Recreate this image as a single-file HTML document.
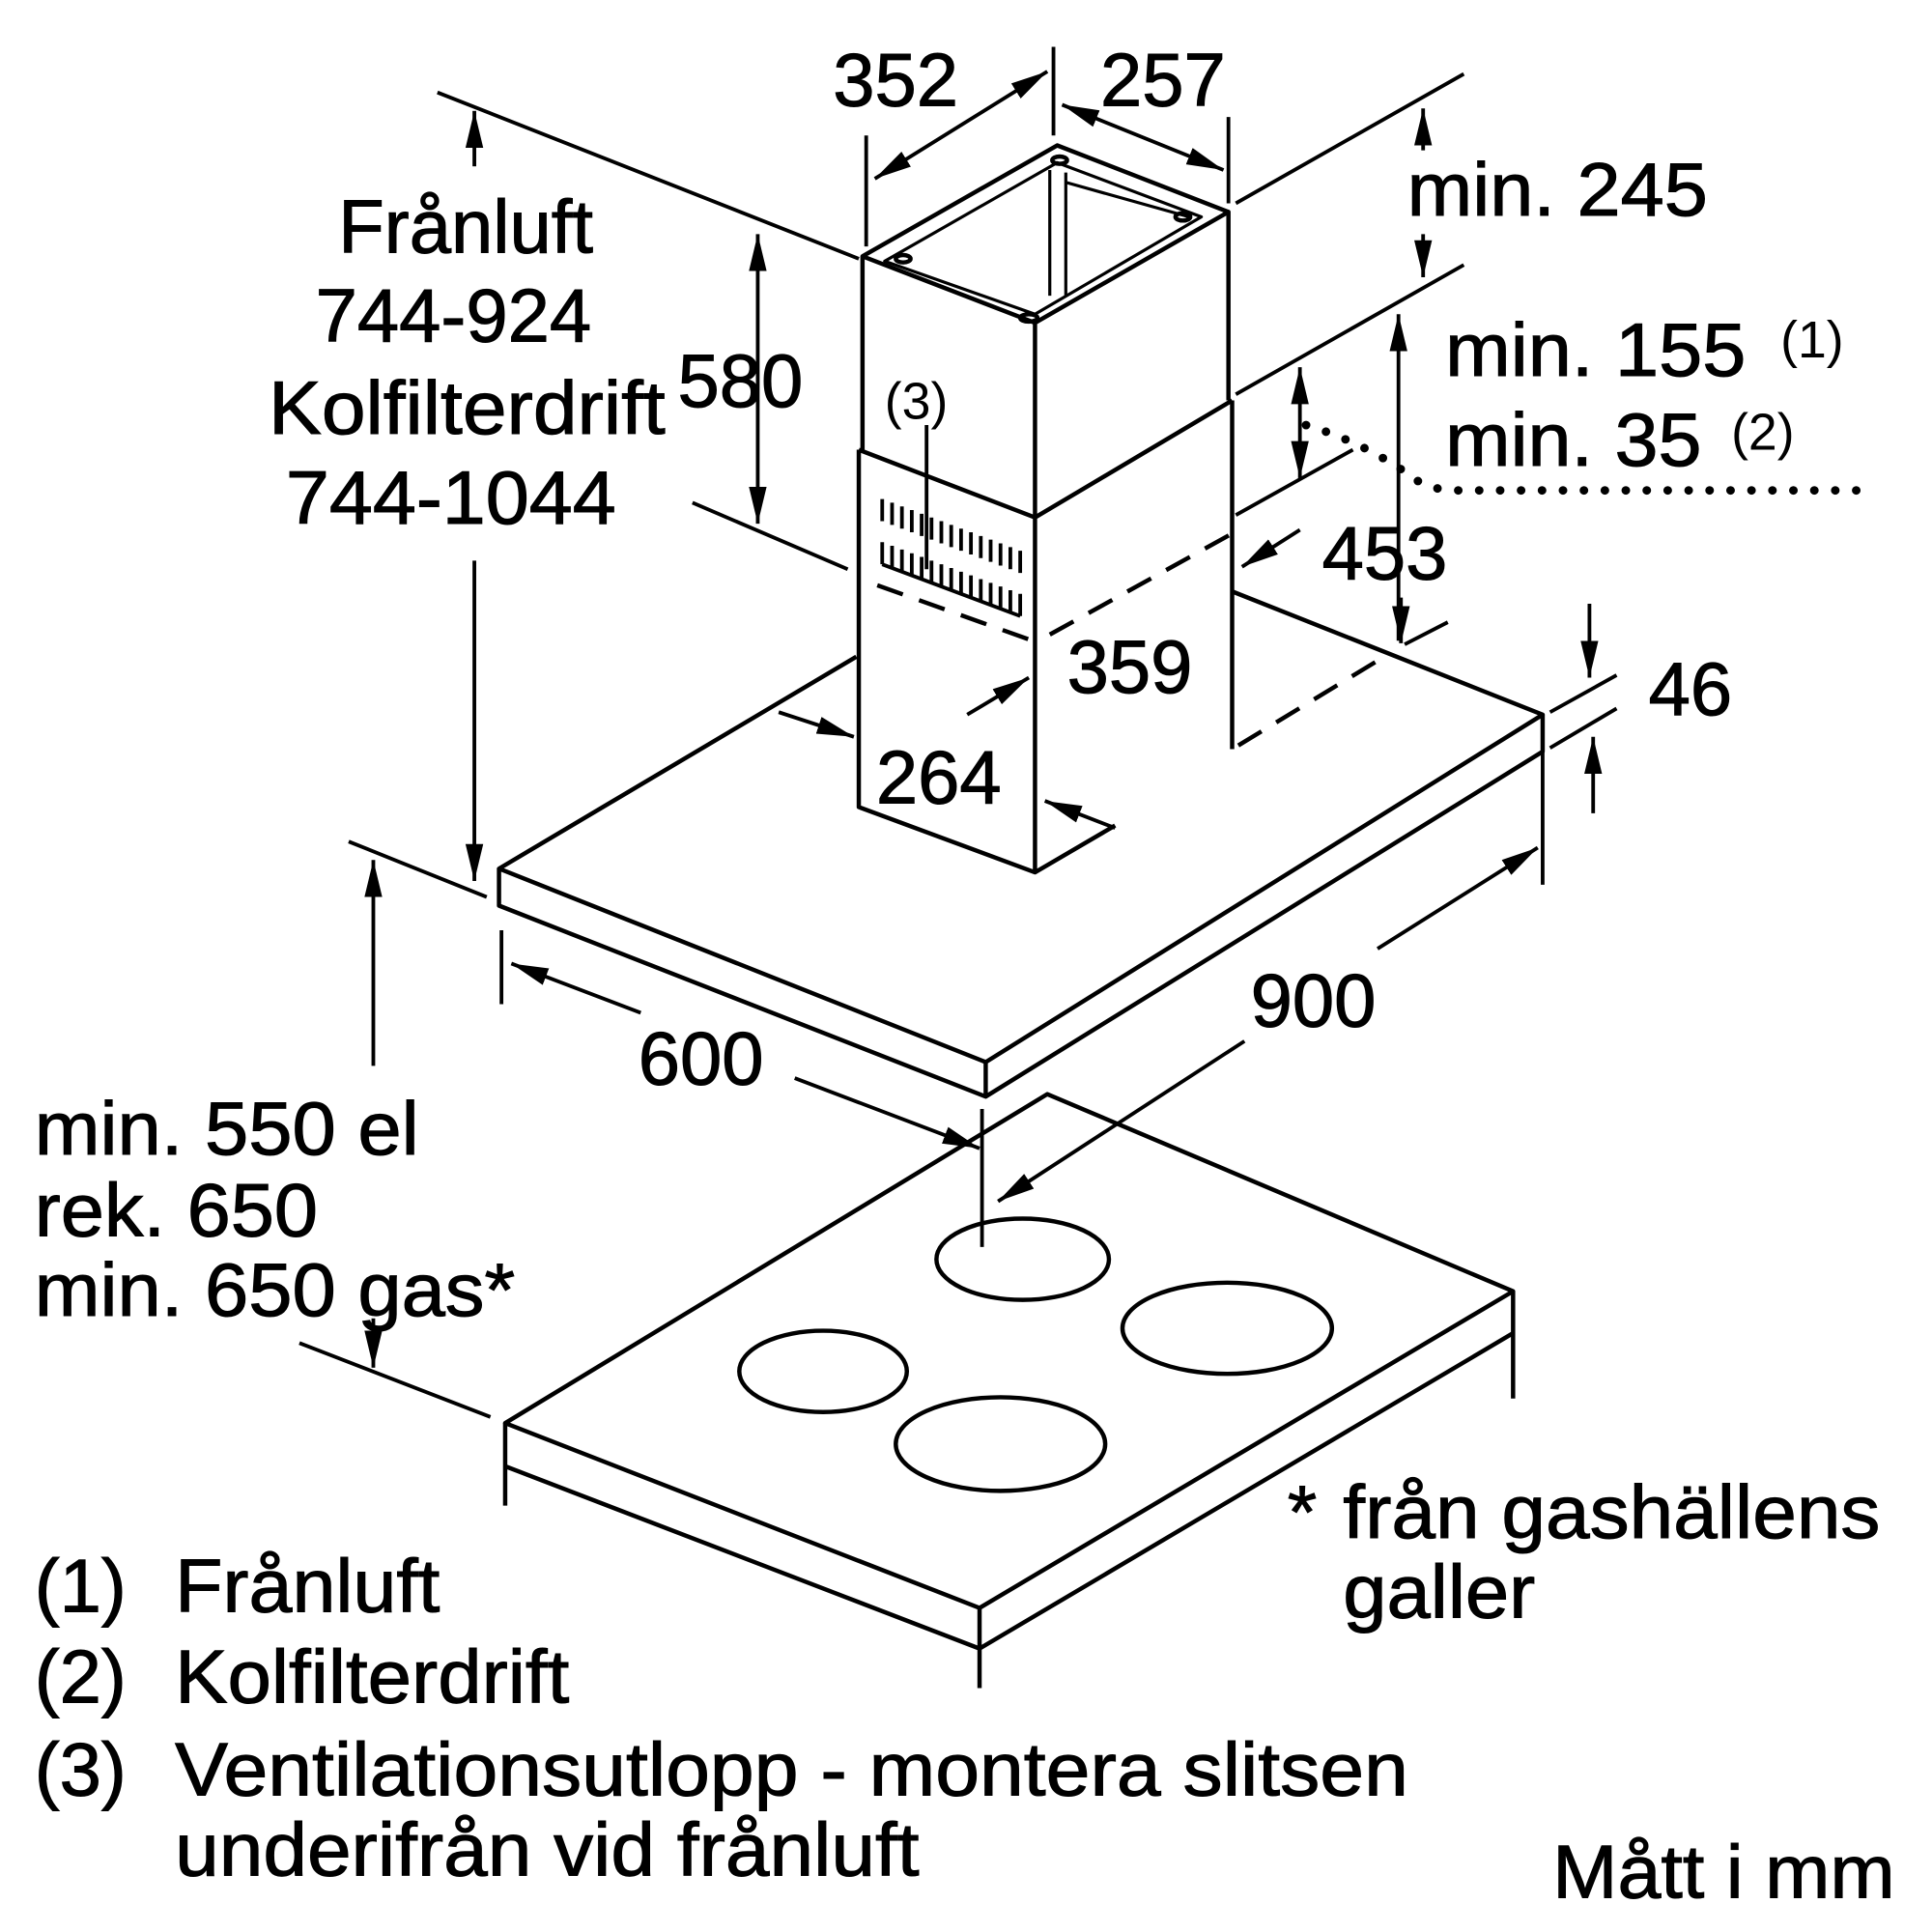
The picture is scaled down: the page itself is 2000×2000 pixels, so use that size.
<!DOCTYPE html>
<html><head><meta charset="utf-8"><style>
html,body{margin:0;padding:0;background:#fff;}
svg{display:block}
text{font-family:"Liberation Sans",sans-serif;fill:#000;}
</style></head><body>
<svg width="2000" height="2000" viewBox="0 0 1568 1568" xmlns="http://www.w3.org/2000/svg">
<defs>
<marker id="a" viewBox="0 0 10 10" refX="10" refY="5" markerWidth="30" markerHeight="30" markerUnits="userSpaceOnUse" orient="auto-start-reverse">
<path d="M0,2.6 L10,5 L0,7.4 Z" fill="#000"/></marker>
</defs>
<g fill="none" stroke="#000" stroke-width="3.5" stroke-linejoin="round">
<!-- canopy -->
<path d="M695,533 L405,705 L800,862 L1252,580 L1000,480"/>
<path d="M405,705 L405,735 L800,890 L1252,610 L1252,580 M800,862 L800,890"/>
<!-- lower chimney -->
<path d="M697,365 L697,655 L840,708 L905,670 M840,420 L840,708 M1000,325 L1000,608 M697,365 L840,420 L1000,325"/>
<!-- upper chimney -->
<path d="M700,208 L700,365 M840,262 L840,420 M997,172 L997,325 M700,208 L840,262 L997,172 L858,118 Z"/>
<path d="M718,212 L840,255 L975,176 L858,132 Z" stroke-width="2.5"/>
<path d="M852,138 L852,240 M865,140 L865,240 M865,148 L965,176" stroke-width="2.5"/>
<ellipse cx="733" cy="210" rx="6" ry="3"/><ellipse cx="835" cy="258" rx="7" ry="3"/><ellipse cx="960" cy="176" rx="6" ry="3"/><ellipse cx="860" cy="130" rx="6" ry="3"/>
<!-- vent slots -->
<g stroke-width="3">
<path d="M716,405 v18 M724,408 v18 M732,411 v18 M740,414 v18 M748,417 v18 M756,420 v18 M764,423 v18 M772,426 v18 M780,429 v18 M788,432 v18 M796,435 v18 M804,438 v18 M812,441 v18 M820,444 v18 M828,447 v18"/>
<path d="M716,440 v18 M724,443 v18 M732,446 v18 M740,449 v18 M748,452 v18 M756,455 v18 M764,458 v18 M772,461 v18 M780,464 v18 M788,467 v18 M796,470 v18 M804,473 v18 M812,476 v18 M820,479 v18 M828,482 v18"/>
<path d="M716,458 L828,500"/>
</g>
<!-- dashed -->
<path d="M712,475 L838,520 M852,515 L1000,433 M1005,605 L1125,532" stroke-dasharray="22,14"/>
<!-- cooktop -->
<path d="M410,1155 L850,888 L1228,1048 L795,1305 Z"/>
<path d="M410,1155 L410,1222 M410,1190 L795,1338 L1228,1082 M795,1305 L795,1370 M1228,1048 L1228,1135"/>
<ellipse cx="830" cy="1022" rx="70" ry="33"/>
<ellipse cx="996" cy="1078" rx="85" ry="37"/>
<ellipse cx="668" cy="1113" rx="68" ry="33"/>
<ellipse cx="812" cy="1172" rx="85" ry="38"/>
</g>
<g fill="none" stroke="#000" stroke-width="3">
<path d="M355,75 L697,210 M1003,165 L1188,60 M1003,320 L1188,215 M703,110 L703,200 M855,38 L855,110 M997,95 L997,165"/>
<path d="M562,408 L688,462 M1003,418 L1098,365 M1140,523 L1175,505 M1258,578 L1312,548 M1258,607 L1312,575 M1252,610 L1252,718 M407,755 L407,815 M283,683 L395,728 M243,1090 L398,1150 M797,900 L797,1012"/>
<path d="M710,145 L850,58" marker-start="url(#a)" marker-end="url(#a)"/>
<path d="M862,85 L993,138" marker-start="url(#a)" marker-end="url(#a)"/>
<path d="M385,135 L385,90" marker-end="url(#a)"/>
<path d="M385,455 L385,715" marker-end="url(#a)"/>
<path d="M615,190 L615,425" marker-start="url(#a)" marker-end="url(#a)"/>
<path d="M752,345 L752,462" />
<path d="M1155,122 L1155,88" marker-end="url(#a)"/>
<path d="M1155,190 L1155,225" marker-end="url(#a)"/>
<path d="M1135,520 L1135,255" marker-end="url(#a)"/>
<path d="M1055,298 L1055,388" marker-start="url(#a)" marker-end="url(#a)"/>
<path d="M1055,430 L1008,460" marker-end="url(#a)"/>
<path d="M1137,485 L1137,522" marker-end="url(#a)"/>
<path d="M785,580 L835,550" marker-end="url(#a)"/>
<path d="M632,578 L693,598" marker-end="url(#a)"/>
<path d="M905,672 L848,650" marker-end="url(#a)"/>
<path d="M1290,490 L1290,550" marker-end="url(#a)"/>
<path d="M1293,660 L1293,598" marker-end="url(#a)"/>
<path d="M1118,770 L1248,688" marker-end="url(#a)"/>
<path d="M1010,845 L810,975" marker-end="url(#a)"/>
<path d="M520,822 L415,782" marker-end="url(#a)"/>
<path d="M645,875 L795,932" marker-end="url(#a)"/>
<path d="M303,865 L303,698" marker-end="url(#a)"/>
<path d="M303,1070 L303,1110" marker-end="url(#a)"/>
<path d="M1060,345 Q1110,360 1150,390 Q1165,398 1180,398 L1515,398" stroke-width="7" stroke-linecap="round" stroke-dasharray="0,17"/>
</g>
<g font-size="61" stroke="#000" stroke-width="0.8">
<text x="676" y="86">352</text>
<text x="893" y="86">257</text>
<text x="378" y="205" text-anchor="middle">Frånluft</text>
<text x="368" y="277" text-anchor="middle">744-924</text>
<text x="218" y="352" textLength="322" lengthAdjust="spacingAndGlyphs">Kolfilterdrift</text>
<text x="232" y="425" textLength="268" lengthAdjust="spacingAndGlyphs">744-1044</text>
<text x="550" y="330">580</text>
<text x="1142" y="175" textLength="244" lengthAdjust="spacingAndGlyphs">min. 245</text>
<text x="1173" y="305" textLength="244" lengthAdjust="spacingAndGlyphs">min. 155</text>
<text x="1173" y="378" textLength="208" lengthAdjust="spacingAndGlyphs">min. 35</text>
<text x="1073" y="470">453</text>
<text x="866" y="562">359</text>
<text x="1338" y="580">46</text>
<text x="711" y="652">264</text>
<text x="1015" y="833">900</text>
<text x="518" y="880">600</text>
<text x="28" y="937" textLength="312" lengthAdjust="spacingAndGlyphs">min. 550 el</text>
<text x="28" y="1003" textLength="230" lengthAdjust="spacingAndGlyphs">rek. 650</text>
<text x="28" y="1068" textLength="390" lengthAdjust="spacingAndGlyphs">min. 650 gas*</text>
<text x="1045" y="1248">*</text>
<text x="1090" y="1248" textLength="436" lengthAdjust="spacingAndGlyphs">från gashällens</text>
<text x="1090" y="1313" textLength="156" lengthAdjust="spacingAndGlyphs">galler</text>
<text x="28" y="1308">(1)</text><text x="142" y="1308" textLength="215" lengthAdjust="spacingAndGlyphs">Frånluft</text>
<text x="28" y="1382">(2)</text><text x="142" y="1382" textLength="320" lengthAdjust="spacingAndGlyphs">Kolfilterdrift</text>
<text x="28" y="1457">(3)</text><text x="142" y="1457" textLength="1001" lengthAdjust="spacingAndGlyphs">Ventilationsutlopp - montera slitsen</text>
<text x="142" y="1522" textLength="604" lengthAdjust="spacingAndGlyphs">underifrån vid frånluft</text>
<text x="1260" y="1540" textLength="278" lengthAdjust="spacingAndGlyphs">Mått i mm</text>
</g>
<g font-size="42">
<text x="718" y="340">(3)</text>
<text x="1445" y="290">(1)</text>
<text x="1405" y="365">(2)</text>
</g>
</svg>
</body></html>
